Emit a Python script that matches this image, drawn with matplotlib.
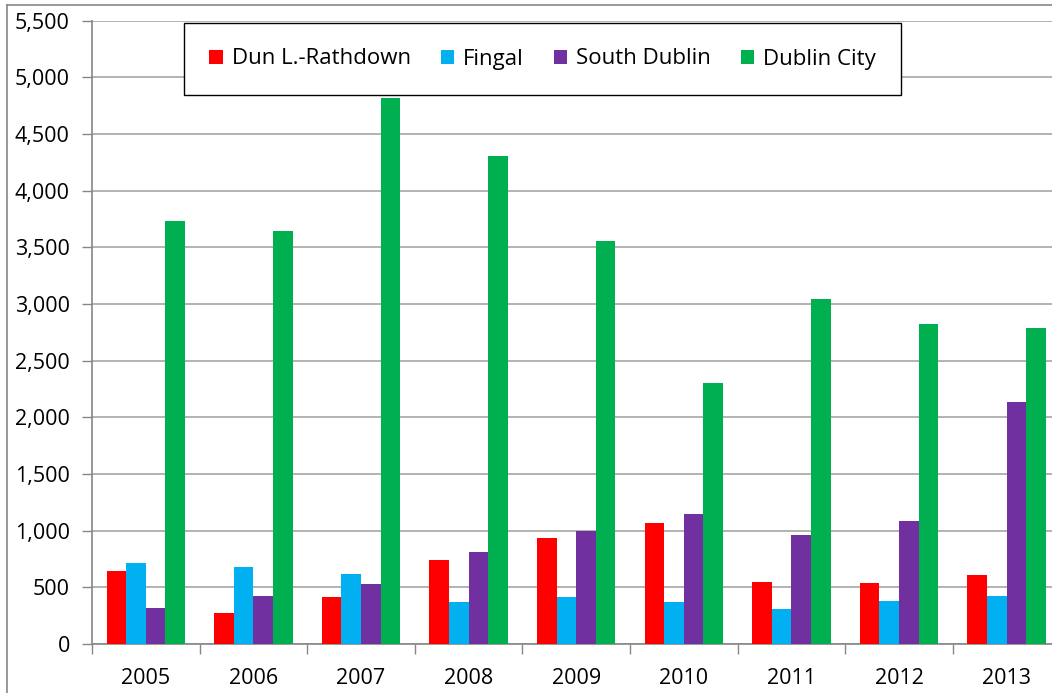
import matplotlib
matplotlib.use("Agg")
import matplotlib.pyplot as plt
from matplotlib.lines import Line2D
import numpy as np

years = ["2005", "2006", "2007", "2008", "2009", "2010", "2011", "2012", "2013"]
series_names = ["Dun L.-Rathdown", "Fingal", "South Dublin", "Dublin City"]
dun_laoghaire = [647, 274, 412, 742, 933, 1066, 550, 541, 606]
fingal = [715, 677, 618, 371, 418, 371, 312, 380, 427]
south_dublin = [315, 421, 533, 809, 998, 1151, 959, 1083, 2139]
dublin_city = [3735, 3640, 4821, 4306, 3552, 2304, 3046, 2825, 2790]
colors = ["#FF0000", "#00B0F0", "#7030A0", "#00B050"]
yticks = list(range(0, 5501, 500))

plt.rcParams['font.family'] = ['Open Sans', 'DejaVu Sans']

W, H = 1052, 693
fig = plt.figure(figsize=(W / 100, H / 100), dpi=100)
left, right, top, bottom = 92, 1060.4, 20.7, 644
ax = fig.add_axes([left / W, 1 - bottom / H, (right - left) / W, (bottom - top) / H])

x = np.arange(len(years))
bw = 0.182
data = [dun_laoghaire, fingal, south_dublin, dublin_city]
for i, (vals, name, c) in enumerate(zip(data, series_names, colors)):
    ax.bar(x + (i - 1.5) * bw, vals, width=bw, color=c, label=name, zorder=3)

ax.set_xlim(-0.5, len(years) - 0.5)
ax.set_ylim(0, 5500)
ax.set_yticks(yticks)
ax.set_yticklabels([f"{v:,}" for v in yticks], fontsize=15.5)
ax.yaxis.grid(True, color="#A6A6A6", linewidth=1.2, zorder=0)
ax.set_xticks(x)
ax.set_xticklabels(years, fontsize=15.5)
ax.set_xticks(np.arange(-0.5, len(years), 1.0), minor=True)
ax.tick_params(axis='x', which='major', length=0, pad=17)
ax.tick_params(axis='x', which='minor', length=7, color="#868686", width=1)
ax.tick_params(axis='y', length=7, color="#868686", width=1, pad=9)
for s in ["top", "right"]:
    ax.spines[s].set_visible(False)
for s in ["left", "bottom"]:
    ax.spines[s].set_color("#868686")
    ax.spines[s].set_linewidth(1.2)

leg = fig.legend(loc='center', bbox_to_anchor=((185 + 900) / 2 / W, 1 - 59 / H),
                 ncol=4, fontsize=16, frameon=True, fancybox=False,
                 handlelength=0.6, handleheight=0.6, handletextpad=0.4,
                 columnspacing=1.35, borderpad=1.15, borderaxespad=0)
frame = leg.get_frame()
frame.set_edgecolor("black")
frame.set_linewidth(1.0)
frame.set_facecolor("white")
frame.set_alpha(1)

# outer chart border
fig.add_artist(Line2D([7 / W, 7 / W], [0, 1 - 5 / H], color="#868686", linewidth=1.2))
fig.add_artist(Line2D([7 / W, 1], [1 - 5 / H, 1 - 5 / H], color="#868686", linewidth=1.2))

fig.savefig("out.png", dpi=100)
